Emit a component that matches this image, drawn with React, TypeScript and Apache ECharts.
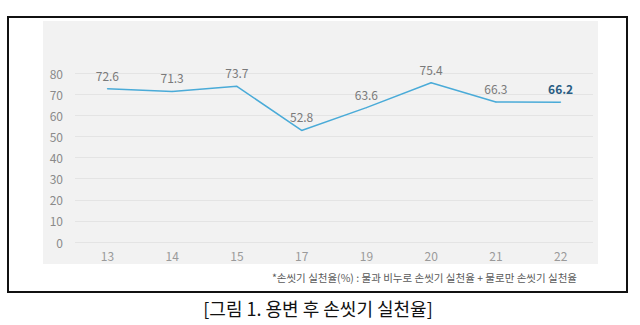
import React, { useEffect, useRef } from "react";
import * as echarts from "echarts";

const years = ["13", "14", "15", "17", "19", "20", "21", "22"];
const rates = [72.6, 71.3, 73.7, 52.8, 63.6, 75.4, 66.3, 66.2];
const yTicks = { min: 0, max: 80, interval: 10 };
const footnote = "*손씻기 실천율(%) : 물과 비누로 손씻기 실천율 + 물로만 손씻기 실천율";
const caption = "[그림 1. 용변 후 손씻기 실천율]";

const FONT = "'Noto Sans CJK KR', 'Noto Sans', sans-serif";

export default function App() {
  const ref = useRef<HTMLDivElement>(null);
  useEffect(() => {
    if (!ref.current) return;
    const chart = echarts.init(ref.current, undefined, { renderer: "svg" });
    const lastIdx = rates.length - 1;
    chart.setOption({
      animation: false,
      backgroundColor: "#ffffff",
      textStyle: { fontFamily: FONT },
      graphic: [
        {
          type: "rect",
          z: -10,
          shape: { x: 8, y: 17, width: 619, height: 275 },
          style: { fill: "#ffffff", stroke: "#111111", lineWidth: 2 },
          silent: true,
        },
        {
          type: "rect",
          z: -9,
          shape: { x: 43, y: 21, width: 555, height: 243 },
          style: { fill: "#f2f2f2" },
          silent: true,
        },
        {
          type: "text",
          x: 577,
          y: 277,
          style: {
            text: footnote,
            fontSize: 10.5,
            fill: "#5a5a5a",
            fontFamily: FONT,
            align: "right",
            verticalAlign: "middle",
          },
        },
        {
          type: "text",
          x: 318,
          y: 308,
          style: {
            text: caption,
            fontSize: 18,
            fill: "#111111",
            fontFamily: FONT,
            align: "center",
            verticalAlign: "middle",
          },
        },
      ],
      grid: { left: 75, right: 47, top: 73, bottom: 83, containLabel: false },
      xAxis: {
        type: "category",
        data: years,
        boundaryGap: true,
        axisLine: { show: false },
        axisTick: { show: false },
        axisLabel: { color: "#9a9a9a", fontSize: 12, margin: 7, fontFamily: FONT },
        splitLine: { show: false },
      },
      yAxis: {
        type: "value",
        min: yTicks.min,
        max: yTicks.max,
        interval: yTicks.interval,
        axisLine: { show: false },
        axisTick: { show: false },
        axisLabel: { color: "#8a8a8a", fontSize: 12, margin: 12, fontFamily: FONT },
        splitLine: { lineStyle: { color: "#e4e4e4", width: 1 } },
      },
      series: [
        {
          type: "line",
          data: rates.map((v, i) =>
            i === lastIdx
              ? {
                  value: v,
                  label: { color: "#2b5d83", fontWeight: "bold", fontSize: 12 },
                }
              : v
          ),
          symbol: "circle",
          symbolSize: 1,
          itemStyle: { color: "#4aabd8" },
          lineStyle: { color: "#4aabd8", width: 1.5 },
          label: {
            show: true,
            position: "top",
            distance: 7,
            color: "#7a7a7a",
            fontSize: 12,
            fontFamily: FONT,
          },
        },
      ],
    });
    return () => chart.dispose();
  }, []);
  return (
    <div
      ref={ref}
      style={{ position: "absolute", left: 0, top: 0, width: 640, height: 325 }}
    />
  );
}
